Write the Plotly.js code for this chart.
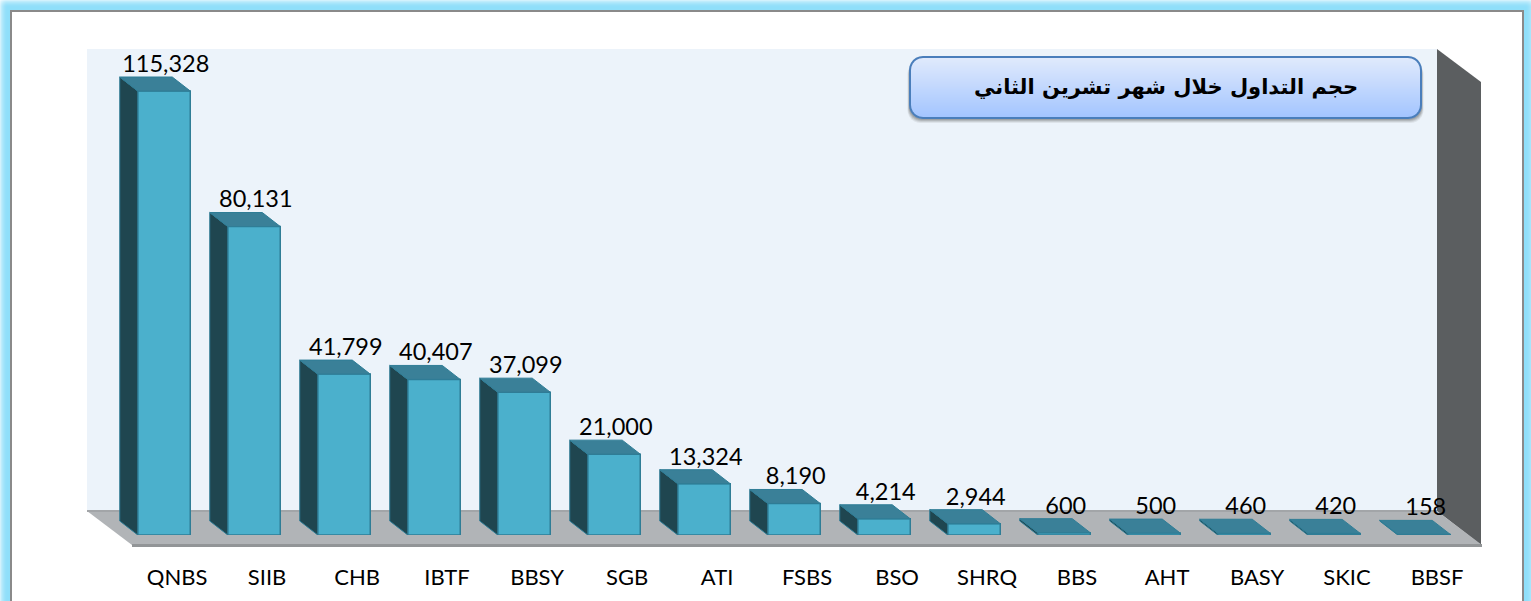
<!DOCTYPE html>
<html><head><meta charset="utf-8">
<script src="https://cdn.plot.ly/plotly-3.0.1.min.js"></script>
<style>html,body{margin:0;padding:0;background:#fff;overflow:hidden}#c{width:1531px;height:601px}</style>
</head><body><div id="c"></div>
<script>
const categories = ["QNBS","SIIB","CHB","IBTF","BBSY","SGB","ATI","FSBS","BSO","SHRQ","BBS","AHT","BASY","SKIC","BBSF"];
const values = [115328,80131,41799,40407,37099,21000,13324,8190,4214,2944,600,500,460,420,158];
const titleText = "حجم التداول خلال شهر تشرين الثاني";

const W = 1531, H = 601;
const baseY = 535;            // pixel row of value 0
const pxPerUnit = 444 / 115328;
const step = 90, firstX = 164;
const barW = 52.5 / step;
const depthX = 18 / step, depthY = 14 / pxPerUnit;

const px = x => x / W;
const py = y => (baseY - y) / baseY;
const poly = pts => "M" + pts.map(p => px(p[0]) + "," + py(p[1])).join(" L") + " Z";
const paper = {xref: "paper", yref: "paper"};
const shapes = [];
function addPoly(pts, fill, lineColor, lw) {
  shapes.push({...paper, type: "path", path: poly(pts), fillcolor: fill, layer: "below",
    line: {color: lineColor || fill, width: lw === undefined ? 0 : lw}});
}
function addRect(x0, y0, x1, y1, fill, opacity) {
  shapes.push({...paper, type: "rect", x0: px(x0), x1: px(x1), y0: py(y0), y1: py(y1),
    fillcolor: fill, opacity: opacity === undefined ? 1 : opacity, layer: "below", line: {width: 0}});
}
function mix(a, b, t) {
  return "rgb(" + a.map((v, i) => Math.round(v + (b[i] - v) * t)).join(",") + ")";
}
function rounded(x0, y0, x1, y1, r) {
  const pts = [];
  [[x1 - r, y0 + r, -90], [x1 - r, y1 - r, 0], [x0 + r, y1 - r, 90], [x0 + r, y0 + r, 180]].forEach(c => {
    for (let a = 0; a <= 90; a += 15) {
      const t = (c[2] + a) * Math.PI / 180;
      pts.push([c[0] + r * Math.cos(t), c[1] + r * Math.sin(t)]);
    }
  });
  return pts;
}

// page frame with its soft outer fade
[.6, .42, .3, .2, .12, .06, .02].forEach((a, i) => {
  addRect(0, i, W, i + 1, "#ffffff", a);
  addRect(i, 0, i + 1, 610, "#ffffff", a);
  addRect(W - i * 0.8 - 0.8, 0, W - i * 0.8, 610, "#ffffff", a * 0.4);
});
addRect(10, 10, 1524, 610, "#8a8a8a");
addRect(12, 12, 1522, 610, "#ffffff");

// chart walls and floor
addRect(87, 49, 1437, 511, "#ecf3fa");
addPoly([[1437, 49], [1481, 82], [1481, 545], [1437, 511]], "#5b5e60");
addPoly([[87, 511], [1437, 511], [1482, 545], [132, 545]], "#b1b4b7");
addRect(132, 544, 1482, 547, "#929597");
addRect(87, 510, 1437, 512, "#a2a5a8");

// title box
const bx0 = 910, by0 = 57, bx1 = 1421, by1 = 118, br = 13;
[[5, .10], [4, .14], [3, .18], [2, .22]].forEach(s => {
  shapes.push({...paper, type: "path", layer: "below", fillcolor: "#555555", opacity: s[1], line: {width: 0},
    path: poly(rounded(bx0 - s[0] / 2, by0 + 4, bx1 + s[0] / 2, by1 + s[0], br))});
});
for (let y = by0; y < by1; y++) {
  const yy = y + 0.5;
  let inset = 0;
  if (yy < by0 + br) inset = br - Math.sqrt(br * br - (by0 + br - yy) ** 2);
  if (yy > by1 - br) inset = br - Math.sqrt(br * br - (yy - by1 + br) ** 2);
  addRect(bx0 + inset, y, bx1 - inset, y + 1.2,
    mix([224, 234, 252], [162, 196, 255], (y - by0) / (by1 - by0)));
}
shapes.push({...paper, type: "path", layer: "below", path: poly(rounded(bx0, by0, bx1, by1, br)),
  line: {color: "#4a7ebb", width: 2}, fillcolor: "rgba(0,0,0,0)"});

// 3-D faces derived from the values
const sideX = [], sideY = [], topX = [], topY = [];
values.forEach((v, i) => {
  const l = i - barW / 2, r = i + barW / 2;
  sideX.push(l, l, l - depthX, l - depthX, l, null);
  sideY.push(0, v, v + depthY, depthY, 0, null);
  topX.push(l, r, r - depthX, l - depthX, l, null);
  topY.push(v, v, v + depthY, v + depthY, v, null);
});
const edge = "#2f7d96";
const traces = [
  {type: "bar", x: categories.map((c, i) => i), y: values, width: barW,
   marker: {color: "#4bb0cc", line: {color: edge, width: 1.5}}, hoverinfo: "skip"},
  {type: "scatter", mode: "lines", x: sideX, y: sideY, fill: "toself", fillcolor: "#1f4650",
   line: {color: edge, width: 1}, hoverinfo: "skip"},
  {type: "scatter", mode: "lines", x: topX, y: topY, fill: "toself", fillcolor: "#3a8098",
   line: {color: edge, width: 1}, hoverinfo: "skip"},
  {type: "scatter", mode: "text", x: categories.map((c, i) => i + 0.02),
   y: values.map(v => v + depthY + 11 / pxPerUnit),
   text: values.map(v => v.toLocaleString("en-US")), textposition: "middle center",
   textfont: {family: "Lato", size: 23.5, color: "#000"}, hoverinfo: "skip", cliponaxis: false}
];

const layout = {
  width: W, height: H, margin: {l: 0, r: 0, t: 0, b: H - baseY, pad: 0},
  paper_bgcolor: "#8fdffa", plot_bgcolor: "rgba(0,0,0,0)", showlegend: false, bargap: 0,
  xaxis: {range: [-firstX / step, (W - firstX) / step], tickmode: "array",
    tickvals: categories.map((c, i) => i + 0.145), ticktext: categories,
    ticks: "outside", ticklen: 23, tickcolor: "rgba(0,0,0,0)", showgrid: false, zeroline: false, showline: false,
    tickfont: {family: "Lato", size: 22, color: "#000"}, tickangle: 0, fixedrange: true},
  yaxis: {range: [0, baseY / pxPerUnit], visible: false, fixedrange: true},
  shapes,
  annotations: [{xref: "paper", yref: "paper", x: px((bx0 + bx1) / 2), y: py((by0 + by1) / 2),
    xanchor: "center", yanchor: "middle", text: "<b>" + titleText + "</b>", showarrow: false,
    font: {family: "DejaVu Sans", size: 21, color: "#000"}}]
};
Plotly.newPlot("c", traces, layout, {displayModeBar: false, staticPlot: true});
</script></body></html>
